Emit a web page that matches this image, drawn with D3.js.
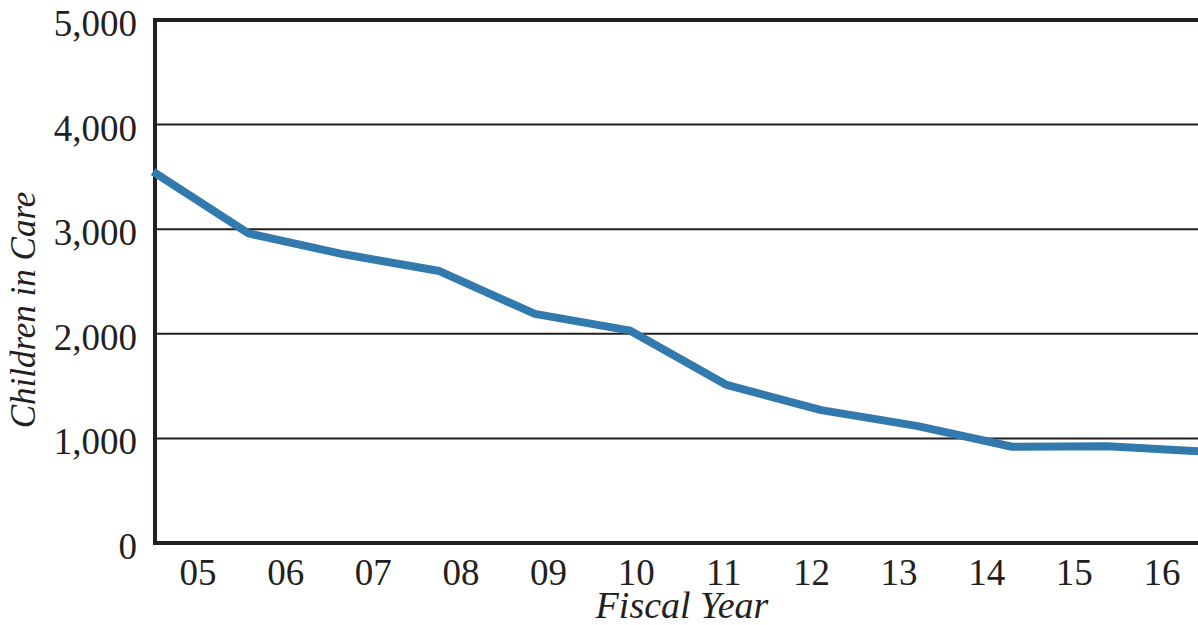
<!DOCTYPE html>
<html>
<head>
<meta charset="utf-8">
<script src="https://cdn.jsdelivr.net/npm/d3@7"></script>
<style>
  body { margin: 0; background: #fff; }
  svg text { font-family: "Liberation Serif", "Times New Roman", serif; fill: #231f20; }
</style>
</head>
<body>
<svg id="chart" width="1198" height="625"></svg>
<script>
// data
var years = ["05", "06", "07", "08", "09", "10", "11", "12", "13", "14", "15", "16"];
var children = [3550, 2960, 2760, 2600, 2190, 2030, 1515, 1270, 1120, 920, 925, 875];
var yTicks = [0, 1000, 2000, 3000, 4000, 5000];

var svg = d3.select("#chart"),
    W = +svg.attr("width"),
    H = +svg.attr("height");

var plotLeft = 155, plotTop = 20, plotBottom = 543;

var y = d3.scaleLinear().domain([0, 5000]).range([plotBottom, plotTop]);

// the line points and the year labels are not on the same spacing in the original
var xLine = d3.scaleLinear().domain([0, years.length - 1]).range([153, 1203]);
var xLab = d3.scalePoint().domain(years).range([198, 1162]);

svg.append("clipPath").attr("id", "clip")
  .append("rect").attr("x", 0).attr("y", 0).attr("width", W).attr("height", H);

// gridlines
svg.append("g").selectAll("line")
  .data(yTicks.filter(d => d > 0 && d < 5000))
  .enter().append("line")
  .attr("x1", plotLeft).attr("x2", W)
  .attr("y1", d => y(d)).attr("y2", d => y(d))
  .attr("stroke", "#231f20")
  .attr("stroke-width", 2);

// frame: top, left, bottom
svg.append("path")
  .attr("d", "M" + W + "," + y(5000) + "H" + plotLeft + "V" + plotBottom + "H" + W)
  .attr("fill", "none")
  .attr("stroke", "#231f20")
  .attr("stroke-width", 4);

// y tick labels
svg.append("g").selectAll("text")
  .data(yTicks)
  .enter().append("text")
  .attr("x", 137)
  .attr("y", d => y(d) + 16)
  .attr("text-anchor", "end")
  .style("font-size", "37px")
  .text(d => d3.format(",")(d));

// x tick labels
svg.append("g").selectAll("text")
  .data(years)
  .enter().append("text")
  .attr("x", d => xLab(d))
  .attr("y", 585)
  .attr("text-anchor", "middle")
  .style("font-size", "37px")
  .text(d => d);

// axis titles
svg.append("text")
  .attr("x", 682)
  .attr("y", 618)
  .attr("text-anchor", "middle")
  .style("font-size", "38px")
  .style("font-style", "italic")
  .text("Fiscal Year");

svg.append("text")
  .attr("transform", "translate(35," + 310 + ") rotate(-90)")
  .attr("text-anchor", "middle")
  .style("font-size", "35px")
  .style("font-style", "italic")
  .text("Children in Care");

// the series
var line = d3.line()
  .x((d, i) => xLine(i))
  .y(d => y(d));

svg.append("path")
  .datum(children)
  .attr("clip-path", "url(#clip)")
  .attr("d", line)
  .attr("fill", "none")
  .attr("stroke", "#3279ae")
  .attr("stroke-width", 8)
  .attr("stroke-linejoin", "round");
</script>
</body>
</html>
